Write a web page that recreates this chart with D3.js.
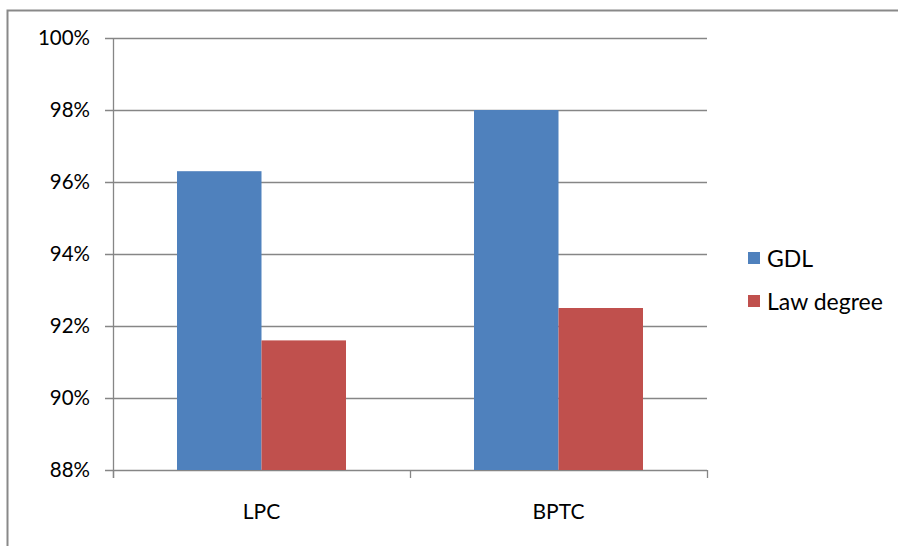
<!DOCTYPE html>
<html>
<head>
<meta charset="utf-8">
<script src="https://cdn.jsdelivr.net/npm/d3@7"></script>
<style>
  body { margin: 0; background: #fff; }
  text { font-family: Lato, "Open Sans", sans-serif; fill: #000; }
</style>
</head>
<body>
<div id="chart"></div>
<script>
(function(){
  var width = 898;
  var height = 546;
  var categories = ['LPC', 'BPTC'];
  var seriesNames = ['GDL', 'Law degree'];
  var gdlValues = [96.3, 98.0];
  var lawValues = [91.6, 92.5];
  var yTicks = [88, 90, 92, 94, 96, 98, 100];
  var colors = ['#4F81BD', '#C0504D'];

  var plot = { left: 113, right: 707, top: 38, bottom: 470 };

  var svg = d3.select('#chart').append('svg')
    .attr('width', width)
    .attr('height', height);

  // outer chart border (runs off the right/bottom edge)
  svg.append('rect')
    .attr('x', 7.5).attr('y', 10.5)
    .attr('width', 910).attr('height', 560)
    .attr('fill', 'none')
    .attr('stroke', '#898989')
    .attr('stroke-width', 2);

  var y = d3.scaleLinear().domain([88, 100]).range([plot.bottom, plot.top]);
  var x0 = d3.scaleBand().domain(categories).range([plot.left, plot.right])
    .paddingInner(0.431).paddingOuter(0.2155);
  var x1 = d3.scaleBand().domain(seriesNames).range([0, x0.bandwidth()]);

  // gridlines
  svg.append('g').selectAll('line')
    .data(yTicks)
    .enter().append('line')
      .attr('x1', plot.left - 8)
      .attr('x2', plot.right)
      .attr('y1', function(d){ return Math.round(y(d)) + 0.5; })
      .attr('y2', function(d){ return Math.round(y(d)) + 0.5; })
      .attr('stroke', '#868686')
      .attr('stroke-width', 1.3);

  // bars
  var rows = categories.map(function(c, i){ return { cat: c, vals: [gdlValues[i], lawValues[i]] }; });
  svg.append('g').selectAll('g')
    .data(rows)
    .enter().append('g')
      .attr('transform', function(d){ return 'translate(' + x0(d.cat) + ',0)'; })
    .selectAll('rect')
    .data(function(d){ return d.vals.map(function(v, j){ return { name: seriesNames[j], v: v, j: j }; }); })
    .enter().append('rect')
      .attr('x', function(d){ return x1(d.name); })
      .attr('y', function(d){ return y(d.v); })
      .attr('width', x1.bandwidth())
      .attr('height', function(d){ return y(88) - y(d.v); })
      .attr('fill', function(d){ return colors[d.j]; });

  // y axis line
  svg.append('line')
    .attr('x1', plot.left + 0.5).attr('x2', plot.left + 0.5)
    .attr('y1', plot.top).attr('y2', plot.bottom + 8)
    .attr('stroke', '#868686').attr('stroke-width', 1.3);

  // x axis ticks at band boundaries
  var xTicks = [plot.left, (plot.left + plot.right) / 2, plot.right];
  svg.append('g').selectAll('line')
    .data(xTicks)
    .enter().append('line')
      .attr('x1', function(d){ return Math.round(d) + 0.5; })
      .attr('x2', function(d){ return Math.round(d) + 0.5; })
      .attr('y1', plot.bottom)
      .attr('y2', plot.bottom + 8)
      .attr('stroke', '#868686').attr('stroke-width', 1.3);

  // y tick labels
  svg.append('g').selectAll('text')
    .data(yTicks)
    .enter().append('text')
      .text(function(d){ return d + '%'; })
      .attr('x', plot.left - 23)
      .attr('y', function(d){ return y(d) + 7; })
      .attr('text-anchor', 'end')
      .attr('font-size', '20.5px');

  // x labels
  svg.append('g').selectAll('text')
    .data(categories)
    .enter().append('text')
      .text(function(d){ return d; })
      .attr('x', function(d){ return x0(d) + x0.bandwidth() / 2; })
      .attr('y', 519)
      .attr('text-anchor', 'middle')
      .attr('font-size', '21px');

  // legend
  var legend = svg.append('g').selectAll('g')
    .data(seriesNames)
    .enter().append('g')
      .attr('transform', function(d, i){ return 'translate(748,' + (252 + i * 43) + ')'; });
  legend.append('rect')
    .attr('width', 12).attr('height', 12)
    .attr('fill', function(d, i){ return colors[i]; });
  legend.append('text')
    .text(function(d){ return d; })
    .attr('x', 19).attr('y', 15)
    .attr('font-size', '23px');
})();
</script>
</body>
</html>
